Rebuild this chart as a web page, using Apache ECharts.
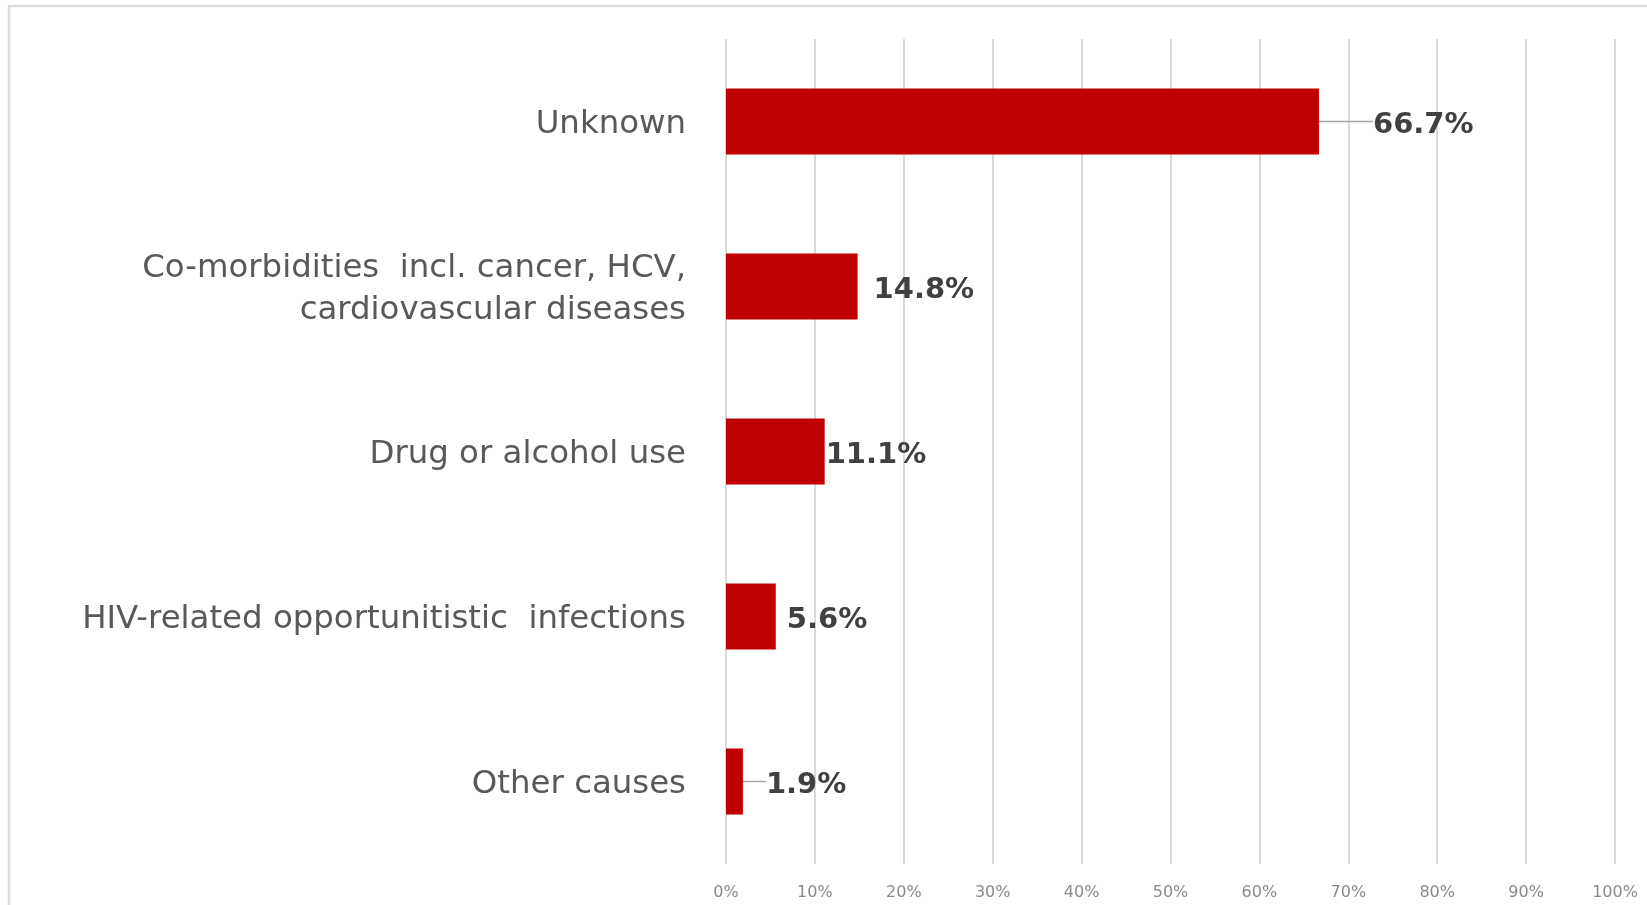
<!DOCTYPE html>
<html>
<head>
<meta charset="utf-8">
<script src="https://cdn.jsdelivr.net/npm/echarts@6/dist/echarts.min.js"></script>
<style>
html,body{margin:0;padding:0;background:#fff;}
#chart{width:1647px;height:905px;}
</style>
</head>
<body>
<div id="chart"></div>
<script>
const categories = [
  'Unknown',
  'Co-morbidities  incl. cancer, HCV,\ncardiovascular diseases',
  'Drug or alcohol use',
  'HIV-related opportunitistic  infections',
  'Other causes'
];
const values = [66.7, 14.8, 11.1, 5.6, 1.9];
const tickValues = [0, 10, 20, 30, 40, 50, 60, 70, 80, 90, 100];

// label placement (style only)
const labelShift = [46, 8, -7, 3, 15];
const showLeader = [true, false, false, false, true];

const chart = echarts.init(document.getElementById('chart'), null, {renderer: 'canvas'});

const option = {
  backgroundColor: '#ffffff',
  animation: false,
  graphic: [{
    type: 'rect',
    silent: true,
    shape: {x: 9, y: 6, width: 1700, height: 1000},
    style: {fill: 'none', stroke: '#dadada', lineWidth: 2.5}
  }],
  grid: {left: 726, right: 32, top: 39, bottom: 41, containLabel: false},
  xAxis: {
    type: 'value',
    min: tickValues[0],
    max: tickValues[tickValues.length - 1],
    interval: 10,
    axisLine: {show: false},
    axisTick: {show: false},
    splitLine: {show: true, lineStyle: {color: '#dadada', width: 2}},
    axisLabel: {
      margin: 21,
      formatter: v => v + '%',
      color: '#8a8a8a',
      fontFamily: 'DejaVu Sans',
      fontSize: 16
    }
  },
  yAxis: {
    type: 'category',
    inverse: true,
    data: categories,
    axisLine: {show: false},
    axisTick: {show: false},
    axisLabel: {
      margin: 40,
      align: 'right',
      formatter: v => v.split('\n').map(s => '{t|' + s + '}').join('\n'),
      rich: {
        t: {
          color: '#595959',
          fontFamily: 'DejaVu Sans',
          fontSize: 32.4,
          lineHeight: 42,
          padding: [6, 0, 0, 0],
          align: 'right'
        }
      }
    }
  },
  series: [{
    type: 'bar',
    barCategoryGap: '60%',
    itemStyle: {color: '#c00000'},
    data: values.map((v, i) => ({
      value: v,
      labelLine: {show: showLeader[i], lineStyle: {color: '#a6a6a6', width: 1.5}}
    })),
    label: {
      show: true,
      position: 'right',
      distance: 0,
      padding: [0, 0, 0, 8],
      formatter: p => '{v|' + p.value.toFixed(1) + '%}',
      rich: {
        v: {
          color: '#404040',
          fontFamily: 'DejaVu Sans',
          fontWeight: 'bold',
          fontSize: 29,
          lineHeight: 34,
          padding: [7, 0, 0, 0]
        }
      }
    },
    labelLayout: p => ({dx: labelShift[p.dataIndex]})
  }]
};
chart.setOption(option);
</script>
</body>
</html>
